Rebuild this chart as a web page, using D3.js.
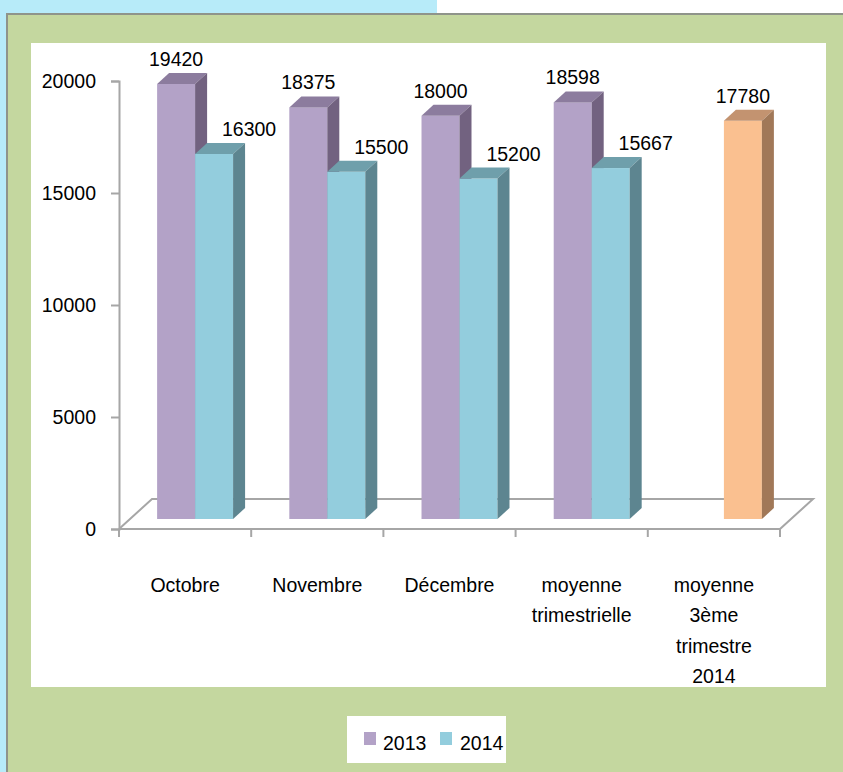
<!DOCTYPE html>
<html>
<head>
<meta charset="utf-8">
<script src="https://cdn.jsdelivr.net/npm/d3@7"></script>
<style>
  html, body { margin: 0; padding: 0; background: #fff; }
  svg { display: block; }
  text { font-family: "Liberation Sans", Arial, sans-serif; fill: #000; }
</style>
</head>
<body>
<div id="chart"></div>
<script>
// données
const categories = ["Octobre", "Novembre", "Décembre", "moyenne\ntrimestrielle", "moyenne\n3ème\ntrimestre\n2014"];
const seriesNames = ["2013", "2014"];
const values2013 = [19420, 18375, 18000, 18598, null];
const values2014 = [16300, 15500, 15200, 15667, 17780];
const yTicks = [0, 5000, 10000, 15000, 20000];
const highlight = { series: "2014", category: categories[4] }; // barre orange

const W = 843, H = 772;
const COL = {
  "2013": { front: "#b3a2c7", top: "#8c7c9e", side: "#726280" },
  "2014": { front: "#93cddd", top: "#6f9fab", side: "#5d8590" },
  hi:     { front: "#fac090", top: "#c39370", side: "#a17858" },
};
const AXIS = "#a6a6a6";

// géométrie pseudo-3D
const X0 = 119, X1 = 780, Y0 = 529;
const FLOOR = [33, -30];   // profondeur du plancher
const BAR_OFF = [10, -10]; // décalage face avant des barres
const BAR_D = [12, -11];   // profondeur d'une barre

const svg = d3.select("#chart").append("svg").attr("width", W).attr("height", H);

// ── cadre ──
svg.append("rect").attr("x", 0).attr("y", 0).attr("width", 437).attr("height", 15).attr("fill", "#b7ebf9");
svg.append("rect").attr("x", 0).attr("y", 0).attr("width", 7).attr("height", H).attr("fill", "#b7ebf9");
svg.append("rect").attr("x", 7).attr("y", 14).attr("width", W - 7).attr("height", H - 14).attr("fill", "#c4d79f");
svg.append("path").attr("d", `M7,${H} L7,14 L${W},14`).attr("fill", "none").attr("stroke", "#8f948a").attr("stroke-width", 2);
svg.append("rect").attr("x", 31).attr("y", 43).attr("width", 795).attr("height", 644).attr("fill", "#fff");

const y = d3.scaleLinear().domain([0, 20000]).range([Y0, 81]);
const x = d3.scaleBand().domain(categories).range([X0, X1]);
const xs = d3.scaleBand().domain(seriesNames).range([0, x.bandwidth()]).paddingInner(0).paddingOuter(0.74);

// ── plancher ──
svg.append("path")
  .attr("d", `M${X0},${Y0} L${X0 + FLOOR[0]},${Y0 + FLOOR[1]} L${X1 + FLOOR[0]},${Y0 + FLOOR[1]} L${X1},${Y0}`)
  .attr("fill", "#fff").attr("stroke", AXIS).attr("stroke-width", 2);

// ── axe vertical ──
const yAxis = svg.append("g").attr("transform", `translate(${X0},0)`)
  .call(d3.axisLeft(y).tickValues(yTicks).tickSize(8).tickPadding(15).tickFormat(d3.format("d")));
yAxis.select(".domain").attr("stroke", AXIS).attr("stroke-width", 2);
yAxis.selectAll(".tick line").attr("stroke", AXIS).attr("stroke-width", 2);
yAxis.selectAll("text").attr("fill", "#000").style("font-size", "19.5px").style("font-family", '"Liberation Sans", Arial, sans-serif');

// ── axe horizontal ──
const xAxis = svg.append("g").attr("transform", `translate(0,${Y0})`);
xAxis.append("line").attr("x1", X0).attr("x2", X1).attr("stroke", AXIS).attr("stroke-width", 2);
const bounds = categories.map(c => x(c)).concat([x(categories[categories.length - 1]) + x.bandwidth()]);
xAxis.selectAll("line.tk").data(bounds).join("line").attr("class", "tk")
  .attr("x1", d => d).attr("x2", d => d).attr("y1", 0).attr("y2", 8)
  .attr("stroke", AXIS).attr("stroke-width", 2);
categories.forEach(c => {
  const t = svg.append("text").attr("text-anchor", "middle").style("font-size", "19.5px");
  c.split("\n").forEach((ln, i) => {
    t.append("tspan").attr("x", x(c) + x.bandwidth() / 2).attr("y", 592 + i * 30.3).text(ln);
  });
});

// ── barres 3D ──
const data = [];
categories.forEach((c, i) => {
  [values2013[i], values2014[i]].forEach((v, s) => {
    if (v == null) return;
    const name = seriesNames[s];
    const hi = name === highlight.series && c === highlight.category;
    data.push({ c, name, v, hi });
  });
});

const labelDx = { "2013": 0, "2014": 35 };
data.forEach(d => {
  const col = d.hi ? COL.hi : COL[d.name];
  const xl = x(d.c) + xs(d.name) + BAR_OFF[0];
  const xr = xl + xs.bandwidth();
  const yb = Y0 + BAR_OFF[1];
  const yt = y(d.v) + BAR_OFF[1];
  const [dx, dy] = BAR_D;
  const g = svg.append("g");
  g.append("rect").attr("x", xl).attr("y", yt).attr("width", xr - xl).attr("height", yb - yt).attr("fill", col.front);
  g.append("path").attr("d", `M${xl},${yt} L${xr},${yt} L${xr + dx},${yt + dy} L${xl + dx},${yt + dy}Z`).attr("fill", col.top);
  g.append("path").attr("d", `M${xr},${yt} L${xr + dx},${yt + dy} L${xr + dx},${yb + dy} L${xr},${yb}Z`).attr("fill", col.side);
  d.lx = (xl + xr) / 2 + (d.hi ? 0 : labelDx[d.name]);
  d.ly = yt - 18;
});

// étiquettes de valeurs (au-dessus de tout)
data.forEach(d => {
  svg.append("text").attr("x", d.lx).attr("y", d.ly).attr("text-anchor", "middle")
    .style("font-size", "19.5px").text(d.v);
});

// ── légende ──
const lg = svg.append("g");
lg.append("rect").attr("x", 347).attr("y", 716).attr("width", 159).attr("height", 47).attr("fill", "#fff");
[[364, 383], [440, 460]].forEach(([sx, tx], i) => {
  lg.append("rect").attr("x", sx).attr("y", 732).attr("width", 12).attr("height", 13).attr("fill", COL[seriesNames[i]].front);
  lg.append("text").attr("x", tx).attr("y", 750).style("font-size", "19.5px").text(seriesNames[i]);
});
</script>
</body>
</html>
